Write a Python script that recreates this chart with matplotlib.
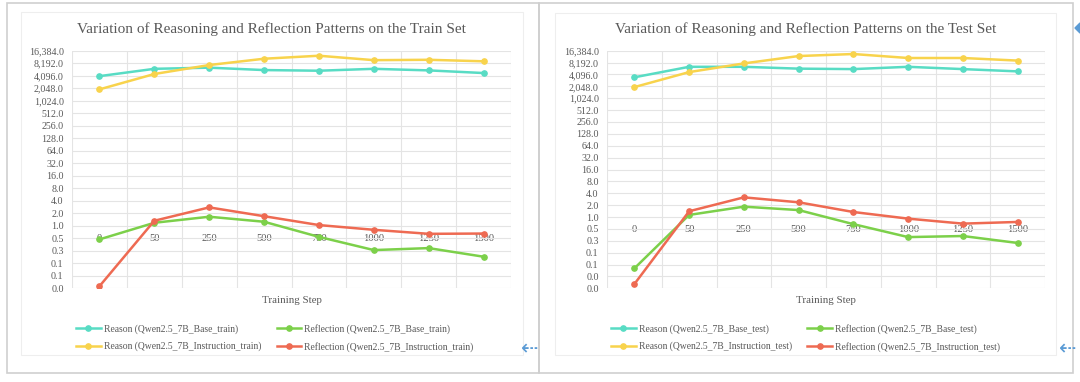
import numpy as np
import matplotlib
matplotlib.use("Agg")
import matplotlib.pyplot as plt
from matplotlib.patches import Rectangle, Polygon

plt.rcParams['font.family'] = ['Liberation Serif', 'DejaVu Sans']

steps = ['0', '50', '250', '500', '750', '1000', '1250', '1500']

# train set
reason_base_train = [4000, 6000, 6400, 5600, 5400, 6000, 5500, 4750]
reason_inst_train = [1920, 4500, 7400, 10500, 12400, 9700, 9900, 9100]
refl_base_train = [0.47, 1.18, 1.65, 1.25, 0.54, 0.26, 0.29, 0.18]
refl_inst_train = [0.035, 1.32, 2.77, 1.7, 1.04, 0.8, 0.64, 0.65]

# test set
reason_base_test = [3470, 6400, 6400, 5750, 5600, 6400, 5600, 4900]
reason_inst_test = [1960, 4700, 7800, 12000, 13500, 10700, 10700, 9200]
refl_base_test = [0.05, 1.13, 1.83, 1.5, 0.66, 0.31, 0.33, 0.22]
refl_inst_test = [0.02, 1.4, 3.15, 2.36, 1.34, 0.91, 0.68, 0.75]

# excel style labels for powers of two, 2^14 down to 2^-6
ytick_labels = ['16,384.0', '8,192.0', '4,096.0', '2,048.0', '1,024.0', '512.0',
                '256.0', '128.0', '64.0', '32.0', '16.0', '8.0', '4.0', '2.0',
                '1.0', '0.5', '0.3', '0.1', '0.1', '0.0', '0.0']

c_teal = '#58dcc4'
c_yellow = '#f8d34c'
c_green = '#7cd04a'
c_red = '#ee6a52'
txt = '#595959'

W, H = 1080, 382
fig = plt.figure(figsize=(W / 100, H / 100), dpi=100)


def box(x0, y0, x1, y1, color, lw=1.0):
    fig.patches.append(Rectangle((x0 / W, 1 - y1 / H), (x1 - x0) / W, (y1 - y0) / H,
                                 transform=fig.transFigure, fill=False,
                                 edgecolor=color, linewidth=lw))


def panel(px0, px1, title, series, names, lowexp):
    ax = fig.add_axes([px0 / W, (H - 288.3) / H, (px1 - px0) / W, 237.6 / H])
    x = np.arange(len(steps))
    cols = [c_teal, c_yellow, c_green, c_red]
    for ys, nm, c in zip(series, names, cols):
        ax.plot(x, ys, color=c, lw=1.8, marker='o', ms=3.8, label=nm, zorder=3)
    ax.set_yscale('log', base=2)
    exps = np.arange(14, lowexp - 1, -1)
    ax.set_ylim(2.0 ** lowexp, 2.0 ** 14)
    ax.set_yticks(2.0 ** exps)
    ax.set_yticklabels(ytick_labels[:len(exps)])
    ax.yaxis.set_minor_locator(matplotlib.ticker.NullLocator())
    ax.set_xlim(-0.5, len(steps) - 0.5)
    ax.set_xticks(x)
    ax.set_xticklabels(steps)
    ax.set_xticks(np.arange(-0.5, len(steps)), minor=True)
    ax.grid(True, axis='y', which='major', color='#e4e4e4', lw=0.8)
    ax.grid(True, axis='x', which='minor', color='#e4e4e4', lw=0.8)
    for s in ['top', 'right', 'left']:
        ax.spines[s].set_visible(False)
    ax.spines['bottom'].set_position(('data', 1))
    ax.spines['bottom'].set_visible(False)
    ax.tick_params(axis='both', which='both', length=0, colors=txt)
    ax.tick_params(axis='x', pad=6, labelsize=7.6)
    ax.tick_params(axis='y', pad=6, labelsize=7.2)
    ax.set_facecolor('none')
    ax.text(0.5, -0.05, 'Training Step', transform=ax.transAxes, ha='center',
            va='center', fontsize=7.8, color=txt)
    cx = (px0 + px1) / 2 - 20
    fig.text(cx / W, 1 - 29 / H, title, ha='center', va='center',
             fontsize=11, color=txt)
    h, l = ax.get_legend_handles_labels()
    fig.legend(h, l, ncol=2,
               loc='upper left', bbox_to_anchor=((px0 + 4) / W, 1 - 324 / H),
               frameon=False, fontsize=6.9, labelcolor=txt, borderpad=0,
               borderaxespad=0, handlelength=2.6, handletextpad=0.3,
               columnspacing=1.6, labelspacing=0.8)
    return ax


panel(72, 511, 'Variation of Reasoning and Reflection Patterns on the Train Set',
      [reason_base_train, reason_inst_train, refl_base_train, refl_inst_train],
      ['Reason (Qwen2.5_7B_Base_train)', 'Reason (Qwen2.5_7B_Instruction_train)',
       'Reflection (Qwen2.5_7B_Base_train)', 'Reflection (Qwen2.5_7B_Instruction_train)'],
      -5)
panel(607, 1045, 'Variation of Reasoning and Reflection Patterns on the Test Set',
      [reason_base_test, reason_inst_test, refl_base_test, refl_inst_test],
      ['Reason (Qwen2.5_7B_Base_test)', 'Reason (Qwen2.5_7B_Instruction_test)',
       'Reflection (Qwen2.5_7B_Base_test)', 'Reflection (Qwen2.5_7B_Instruction_test)'],
      -6)

# panel frames
box(7, 3, 539, 373, '#cfcfcf', 1.2)
box(539, 3, 1073, 373, '#cfcfcf', 1.2)
box(21, 12, 523, 355, '#eeeeee', 0.8)
box(555, 13, 1056, 355, '#eeeeee', 0.8)

# blue ui arrows
for ax_ in (530, 1068):
    fig.text(ax_ / W, 1 - 349 / H, '\u21e0', family='DejaVu Sans', fontsize=15,
             color='#5b9bd5', ha='center', va='center')
# half-hidden blue diamond at the right edge
fig.patches.append(Polygon([[1075 / W, 1 - 28 / H], [1080 / W, 1 - 23 / H],
                            [1085 / W, 1 - 28 / H], [1080 / W, 1 - 33 / H]],
                           closed=True, transform=fig.transFigure,
                           color='#5b9bd5'))

fig.savefig('out.png', dpi=100)
